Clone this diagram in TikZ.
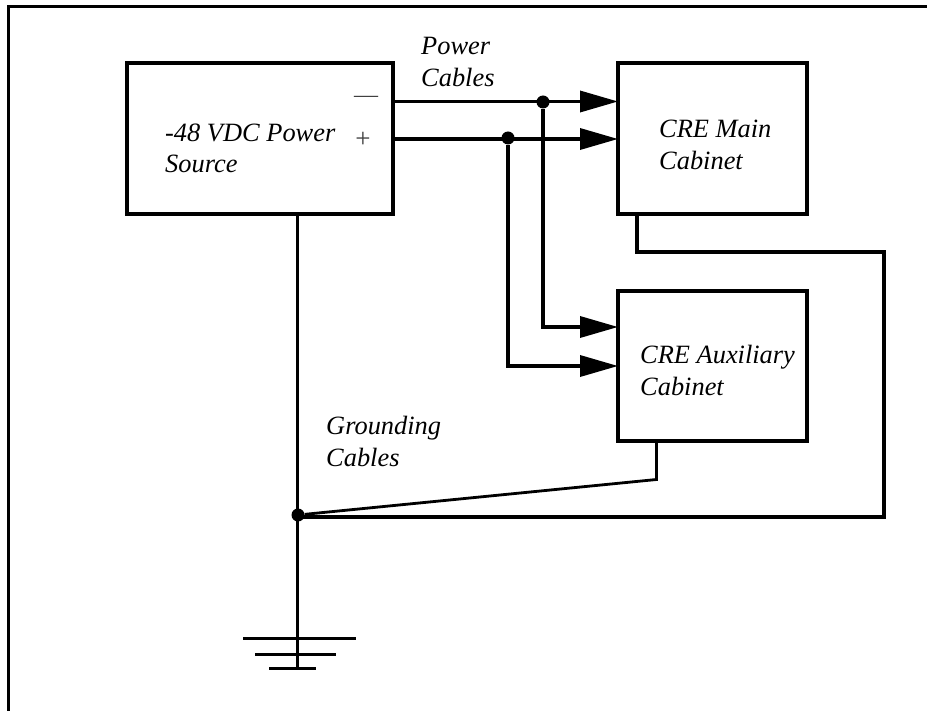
\documentclass[tikz,border=0pt]{standalone}
\usepackage{fontspec}
\setmainfont{Liberation Serif}
\usetikzlibrary{arrows.meta,positioning}
\tikzset{>={Triangle[length=38pt,width=21pt]},
         cabinet/.style={draw,line width=3.5pt,inner sep=0pt,outer sep=0pt,anchor=north west},
         labeled/.style={align=left,anchor=north west,inner sep=0pt,font=\fontsize{26.4}{31.5}\selectfont\itshape},
         sign/.style={inner sep=0pt,text=black!75,font=\fontsize{24}{24}\selectfont},
         junction/.style={circle,fill,inner sep=0pt,minimum size=13pt},
         cable/.style={line width=3.5pt}}
\begin{document}
\begin{tikzpicture}[x=1pt,y=-1pt]
  \useasboundingbox (0,0) rectangle (927,711);
  % frame
  \coordinate (frametop) at (8.5,6.5);
  \coordinate (frameright) at (927,6.5);
  \coordinate (framebottom) at (8.5,711);
  \draw[line width=3pt] (framebottom) -- (frametop) -- (frameright);

  % boxes
  \node[cabinet,minimum width=266pt,minimum height=151pt] (source) at (127,63) {};
  \node[cabinet,minimum width=189pt,minimum height=151pt] (main) at (618,63) {};
  \node[cabinet,minimum width=189pt,minimum height=150pt] (aux) at (618,291) {};

  % texts
  \node[labeled] (sourcetext) at (165,123.5) {-48 VDC Power\\Source};
  \node[labeled] (maintext) at (659,120) {CRE Main\\Cabinet};
  \node[labeled] (auxtext) at (640,345) {CRE Auxiliary\\Cabinet};
  \node[labeled] (powertext) at (421,37.5) {Power\\Cables};
  \node[labeled] (groundtext) at (326,416) {Grounding\\Cables};
  \node[sign] (minus) at (366,99) {---};
  \node[sign,font=\fontsize{27}{27}\selectfont] (plus) at (363,139.5) {+};

  % power cables
  \node[junction] (negjoin) at (543,102) {};
  \node[junction] (posjoin) at (508,138) {};
  \coordinate (negout) at (393,101.5);
  \coordinate (posout) at (393,139);
  \coordinate (negmain) at (618,101.5);
  \coordinate (posmain) at (618,139);
  \coordinate (negaux) at (618,327);
  \coordinate (posaux) at (618,366);
  \draw[cable,->] (negout) -- (negmain);
  \draw[cable,->] (posout) -- (posmain);
  \draw[cable,->] (negjoin) |- (negaux);
  \draw[cable,->] (posjoin) |- (posaux);

  % grounding cables
  \node[junction] (groundjoin) at (298,515) {};
  \coordinate (sourceout) at (297.5,214);
  \coordinate (groundend) at (297.5,669);
  \coordinate (mainout) at (637,214);
  \coordinate (mainrun) at (637,252);
  \coordinate (mainside) at (884,252);
  \coordinate (maindown) at (884,517);
  \coordinate (mainback) at (298,517);
  \coordinate (auxout) at (656.5,441);
  \coordinate (auxdown) at (656.5,479.5);
  \draw[cable] (sourceout) -- (groundend);
  \draw[cable] (mainout) -- (mainrun) -- (mainside) -- (maindown) -- (mainback);
  \draw[line width=2.8pt] (auxout) -- (auxdown) -- (groundjoin);

  % ground symbol
  \coordinate (baroneleft) at (243,638);
  \coordinate (baroneright) at (356,638);
  \coordinate (bartwoleft) at (255,654);
  \coordinate (bartworight) at (336,654);
  \coordinate (barthreeleft) at (269,668);
  \coordinate (barthreeright) at (316,668);
  \draw[line width=3pt] (baroneleft) -- (baroneright);
  \draw[line width=3pt] (bartwoleft) -- (bartworight);
  \draw[line width=3pt] (barthreeleft) -- (barthreeright);
\end{tikzpicture}
\end{document}
